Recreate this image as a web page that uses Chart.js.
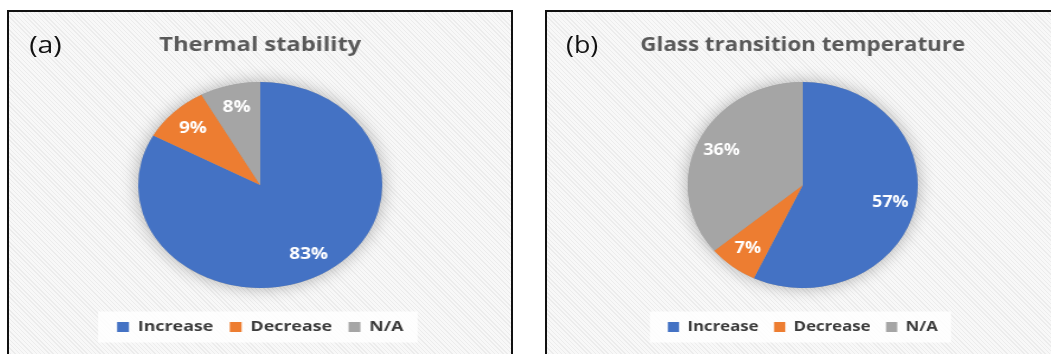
<!DOCTYPE html>
<html>
<head>
<meta charset="utf-8">
<script src="https://cdn.jsdelivr.net/npm/chart.js@4.4.0/dist/chart.umd.min.js"></script>
<style>
  html, body { margin: 0; padding: 0; background: #fff; width: 1051px; height: 354px; overflow: hidden; }
  .panel {
    position: absolute; top: 10px; height: 360px;
    border: 2px solid #111; box-sizing: border-box;
    background: repeating-linear-gradient(45deg, #f8f8f8 0 2px, #ececec 2px 3px);
    overflow: hidden;
  }
  #panelA { left: 7px; width: 506px; }
  #panelB { left: 545px; width: 520px; }
  .stage { position: absolute; left: 0; top: 0; height: 342px; transform-origin: 0 0; }
  #panelA .stage { width: 424px; transform: scaleX(1.185); }
  #panelB .stage { width: 458px; transform: scaleX(1.117); }
  .stage canvas { position: absolute; left: 0; top: 0; }
  .tag { position: absolute; left: 17px; top: 20px; font: 24px "Open Sans", sans-serif; line-height: 1; color: #111; }
</style>
</head>
<body>
<div class="panel" id="panelA">
  <div class="stage">
    <canvas id="chartA" width="424" height="342"></canvas>
    <span class="tag">(a)</span>
  </div>
</div>
<div class="panel" id="panelB">
  <div class="stage">
    <canvas id="chartB" width="458" height="342"></canvas>
    <span class="tag">(b)</span>
  </div>
</div>
<script>
// Shares of reported effects, in percent
const categories = ['Increase', 'Decrease', 'N/A'];
const thermalStability = [83, 9, 8];
const glassTransition = [57, 7, 36];

const sliceColors = ['#4472C4', '#ED7D31', '#A5A5A5'];
const fontFamily = '"Open Sans", "Noto Sans", sans-serif';

// soft drop shadow under the whole pie
const pieShadow = {
  id: 'pieShadow',
  beforeDatasetsDraw(chart) {
    const arc = chart.getDatasetMeta(0).data[0];
    if (!arc) return;
    const { ctx } = chart;
    ctx.save();
    ctx.shadowColor = 'rgba(0,0,0,0.3)';
    ctx.shadowBlur = 16;
    ctx.beginPath();
    ctx.arc(arc.x, arc.y, arc.outerRadius, 0, Math.PI * 2);
    ctx.fillStyle = '#a0a0a0';
    ctx.fill();
    ctx.restore();
  },
};

// light box behind the legend row
const legendBackdrop = {
  id: 'legendBackdrop',
  beforeDraw(chart) {
    const boxes = chart.legend && chart.legend.legendHitBoxes;
    if (!boxes || !boxes.length) return;
    const left = Math.min(...boxes.map(b => b.left)) - 16;
    const right = Math.max(...boxes.map(b => b.left + b.width)) + 12;
    const mid = boxes[0].top + boxes[0].height / 2;
    const { ctx } = chart;
    ctx.save();
    ctx.fillStyle = 'rgba(255,255,255,0.85)';
    ctx.fillRect(left, mid - 15.5, right - left, 31);
    ctx.restore();
  },
};

// percentage labels inside each slice
const sliceLabels = {
  id: 'sliceLabels',
  afterDatasetsDraw(chart) {
    const { ctx } = chart;
    const values = chart.data.datasets[0].data;
    ctx.save();
    ctx.fillStyle = '#fff';
    ctx.font = 'bold 16px ' + fontFamily;
    ctx.textAlign = 'center';
    ctx.textBaseline = 'middle';
    chart.getDatasetMeta(0).data.forEach((arc, i) => {
      const mid = (arc.startAngle + arc.endAngle) / 2;
      const r = arc.outerRadius * 0.78;
      ctx.fillText(values[i] + '%', arc.x + Math.cos(mid) * r, arc.y + Math.sin(mid) * r);
    });
    ctx.restore();
  },
};

function makePie(id, title, values) {
  return new Chart(document.getElementById(id), {
    type: 'pie',
    data: {
      labels: categories,
      datasets: [{
        data: values,
        backgroundColor: sliceColors,
        borderWidth: 0,
        radius: 103,
      }],
    },
    options: {
      responsive: false,
      animation: false,
      layout: { padding: { bottom: 9.5 } },
      plugins: {
        tooltip: { enabled: false },
        title: {
          display: true,
          text: title,
          color: '#595959',
          font: { family: fontFamily, size: 20, weight: 'bold', lineHeight: 1.2 },
          padding: { top: 21, bottom: 7.5 },
        },
        legend: {
          position: 'bottom',
          labels: {
            color: '#3a3a3a',
            font: { family: fontFamily, size: 15, weight: 'bold' },
            boxWidth: 10,
            boxHeight: 10,
            padding: 14,
          },
        },
      },
    },
    plugins: [pieShadow, legendBackdrop, sliceLabels],
  });
}

makePie('chartA', 'Thermal stability', thermalStability);
makePie('chartB', 'Glass transition temperature', glassTransition);
</script>
</body>
</html>
